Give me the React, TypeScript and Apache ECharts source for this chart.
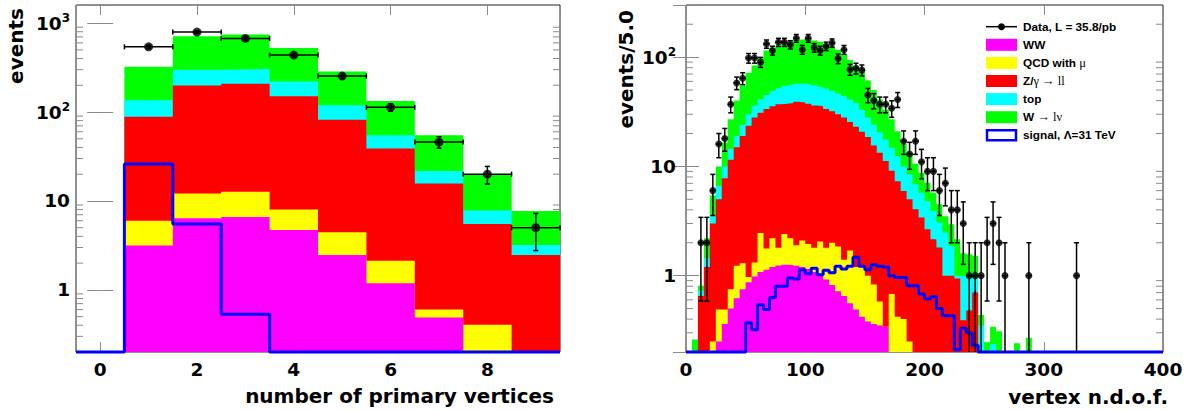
import React, { useEffect, useRef } from "react";
import * as echarts from "echarts";

// ---------- number of primary vertices: unit bins centred on 0..9 ----------
const nvtxCentres = [0, 1, 2, 3, 4, 5, 6, 7, 8, 9];
const nvtxData = [0, 542, 793, 673, 437, 254, 113, 46, 20, 5];
// stacked totals: every level already includes the processes below it
const nvtxLevelWW = [0, 3.15, 6.4, 6.6, 4.72, 2.47, 1.19, 0.489, 0, 0];
const nvtxLevelQCD = [0, 6.0, 12.1, 12.7, 8.0, 4.44, 2.12, 0.6, 0.404, 0];
const nvtxLevelZ = [0, 88.6, 199, 208, 151, 82, 39, 15.7, 5.5, 2.47];
const nvtxLevelTop = [0, 136, 299, 304, 221, 119, 55, 21.7, 7.8, 3.2];
const nvtxLevelW = [0, 323, 714, 746, 524, 286, 133, 54.7, 19.9, 7.7];
const nvtxSignal = [0, 26, 5.5, 0.53, 0, 0, 0, 0, 0, 0];

// ---------- vertex n.d.o.f.: bins of width 5 from 0 to 400 (later bins are empty) ----------
const ndofData = [
  0, 0, 2, 2, 6, 16, 18, 37, 58, 64,
  98, 98, 90, 132, 115, 137, 137, 130, 149, 117,
  149, 122, 115, 126, 135, 97, 117, 77, 79, 76,
  45, 40, 37, 37, 34, 41, 17, 13, 17, 11,
  9, 9, 6, 7, 4, 4, 3, 1, 1, 1,
  2, 3, 2, 1, 0, 0, 0, 1, 0, 0,
  0, 0, 0, 0, 0, 1,
];
const ndofLevelW = [
  0, 0.26, 0.81, 2.2, 5.4, 10, 16.5, 27, 40, 55,
  72, 84, 100, 115, 122, 128, 134, 140, 144, 146,
  145, 142, 138, 132, 125, 116, 107, 94, 83, 74,
  61, 50, 41, 33, 27, 21, 16, 13, 10.5, 8.75,
  7.1, 5.75, 4.5, 3.5, 2.95, 2.15, 1.6, 1.57, 1.52, 0.436,
  0.245, 0.34, 0.31, 0, 0, 0.24, 0, 0.27,
];
const ndofLevelTop = [
  0, 0, 0.73, 1.45, 3.6, 6.6, 10, 14.5, 19, 24,
  30, 36, 41, 45, 49, 52, 54, 56, 57, 57,
  56.5, 55, 53.5, 51.5, 49, 46.5, 44, 41, 38, 33,
  28, 24, 20.5, 17.6, 14.8, 12.4, 10, 8.45, 6.85, 5.75,
  4.8, 3.9, 3.06, 2.48, 1.87, 1.0, 1.0, 0.95, 0.95, 0.35,
  0, 0.237,
];
const ndofLevelZ = [
  0, 0, 0.65, 1.2, 3.0, 5.0, 7.8, 11.5, 15, 19,
  23.5, 28, 31, 33.5, 35.5, 37, 37.5, 38, 39, 38.5,
  37.5, 36, 35.5, 33.5, 32, 30, 28, 25.5, 23, 20.7,
  18.6, 15.5, 13.3, 11.2, 9.1, 7.3, 5.95, 5.0, 4.05, 3.4,
  2.66, 2.15, 1.81, 1.0, 1.0, 0.94, 0.39, 0.48, 0.7,
];
const ndofLevelQCD = [
  0, 0, 0, 0, 0.25, 0.49, 0.49, 0.75, 1.23, 1.3,
  0.97, 1.32, 2.45, 1.77, 2.2, 1.8, 2.4, 2.2, 1.9, 2.1,
  1.95, 1.8, 2.05, 1.8, 2.0, 1.85, 1.4, 1.7, 1.2, 1.2,
  1.0, 0.83, 0.58, 0.34, 0.68, 0.42, 0.4, 0.25,
];
const ndofLevelWW = [
  0, 0, 0, 0, 0, 0.25, 0.36, 0.5, 0.62, 0.75,
  0.87, 0.98, 1.08, 1.13, 1.2, 1.24, 1.26, 1.25, 1.23, 1.2,
  1.15, 1.08, 1.0, 0.92, 0.82, 0.72, 0.65, 0.56, 0.49, 0.42,
  0.38, 0.36, 0.35, 0.34,
];
const ndofSignal = [
  0, 0, 0, 0, 0, 0, 0, 0, 0, 0,
  0.37, 0.32, 0.54, 0.49, 0.63, 0.8, 0.8, 0.95, 0.93, 1.13,
  1.04, 1.17, 1.02, 1.12, 1.06, 1.22, 1.15, 1.22, 1.47, 1.22,
  1.13, 1.26, 1.22, 1.2, 1.0, 0.96, 0.96, 0.81, 0.81, 0.68,
  0.61, 0.64, 0.5, 0.43, 0.43, 0.21, 0.33, 0.3, 0.23, 0,
];

// log-axis minor tick positions
const nvtxMinorTicks = [
  0.3, 0.4, 0.5, 0.6, 0.7, 0.8, 0.9,
  2, 3, 4, 5, 6, 7, 8, 9,
  20, 30, 40, 50, 60, 70, 80, 90,
  200, 300, 400, 500, 600, 700, 800, 900,
];
const ndofMinorTicks = [
  0.3, 0.4, 0.5, 0.6, 0.7, 0.8, 0.9,
  2, 3, 4, 5, 6, 7, 8, 9,
  20, 30, 40, 50, 60, 70, 80, 90,
  200,
];

const legendEntries = [
  { bold: "Data, L = 35.8/pb", symbol: "", kind: "data" },
  { bold: "WW", symbol: "", kind: "fill", color: "#ff00ff" },
  { bold: "QCD with ", symbol: "μ", kind: "fill", color: "#ffff00" },
  { bold: "Z/", symbol: "γ → ll", kind: "fill", color: "#ff0000" },
  { bold: "top", symbol: "", kind: "fill", color: "#00ffff" },
  { bold: "W ", symbol: "→ lν", kind: "fill", color: "#00ff00" },
  { bold: "signal, Λ=31 TeV", symbol: "", kind: "outline", color: "#0000ff" },
];

const COLORS = {
  WW: "#ff00ff",
  QCD: "#ffff00",
  Z: "#ff0000",
  top: "#00ffff",
  W: "#00ff00",
  signal: "#0000ff",
};

const AXIS_FONT = '"DejaVu Sans", sans-serif';
const LEGEND_FONT = '"Liberation Sans", Arial, sans-serif';
const SERIF_FONT = '"Liberation Serif", "DejaVu Serif", serif';
const TICK_COLOR = "#8a8a8a";

const NVTX = { edge0: -0.5, width: 1, n: 10, min: 0.2, max: 1600 };
const NDOF = { edge0: 0, width: 5, n: 80, min: 0.2, max: 300 };

type Hist = { edge0: number; width: number; n: number; min: number; max: number };

// points of a step outline: one point per bin low edge plus the final high edge
function stepPoints(h: Hist, vals: number[]) {
  const pts: number[][] = [];
  for (let i = 0; i < h.n; i++) {
    pts.push([h.edge0 + i * h.width, Math.max(vals[i] ?? 0, h.min)]);
  }
  pts.push([h.edge0 + h.n * h.width, Math.max(vals[h.n - 1] ?? 0, h.min)]);
  return pts;
}

function filledLevel(h: Hist, vals: number[], color: string, axis: number) {
  return {
    type: "line",
    xAxisIndex: axis * 2,
    yAxisIndex: axis * 2,
    data: stepPoints(h, vals),
    step: "end",
    symbol: "none",
    silent: true,
    lineStyle: { width: 0, color },
    areaStyle: { color, opacity: 1, origin: "start" },
    z: 2,
  };
}

function signalLine(h: Hist, vals: number[], axis: number) {
  return {
    type: "line",
    xAxisIndex: axis * 2,
    yAxisIndex: axis * 2,
    data: stepPoints(h, vals),
    step: "end",
    symbol: "none",
    silent: true,
    clip: false,
    lineStyle: { width: 3, color: COLORS.signal },
    z: 4,
  };
}

function dataSeries(h: Hist, centres: number[], vals: number[], axis: number, markerSize: number, xCap: boolean) {
  const bars = [] as number[][];
  const points = [] as number[][];
  centres.forEach((x, i) => {
    const v = vals[i];
    if (!v) return;
    const err = Math.sqrt(v);
    const lo = v - err;
    bars.push([x, v, x - h.width / 2, x + h.width / 2, Math.max(lo, h.min), v + err, lo <= h.min ? 1 : 0]);
    points.push([x, v]);
  });
  const errorBars = {
    type: "custom",
    xAxisIndex: axis * 2,
    yAxisIndex: axis * 2,
    silent: true,
    z: 5,
    data: bars,
    renderItem: (_p: any, api: any) => {
      const x = api.value(0);
      const v = api.value(1);
      const c = api.coord([x, v]);
      const lo = api.coord([x, api.value(4)]);
      const hi = api.coord([x, api.value(5)]);
      const l = api.coord([api.value(2), v]);
      const r = api.coord([api.value(3), v]);
      const st = { stroke: "#000", lineWidth: 1.5 };
      const cw = 2.5;
      const children: any[] = [
        { type: "line", shape: { x1: c[0], y1: lo[1], x2: c[0], y2: hi[1] }, style: st },
        { type: "line", shape: { x1: l[0], y1: c[1], x2: r[0], y2: c[1] }, style: st },
        { type: "line", shape: { x1: c[0] - cw, y1: hi[1], x2: c[0] + cw, y2: hi[1] }, style: st },
      ];
      if (!api.value(6)) {
        children.push({ type: "line", shape: { x1: c[0] - cw, y1: lo[1], x2: c[0] + cw, y2: lo[1] }, style: st });
      }
      if (xCap) {
        children.push({ type: "line", shape: { x1: l[0], y1: c[1] - cw, x2: l[0], y2: c[1] + cw }, style: st });
        children.push({ type: "line", shape: { x1: r[0], y1: c[1] - cw, x2: r[0], y2: c[1] + cw }, style: st });
      }
      return { type: "group", children };
    },
  };
  const markers = {
    type: "scatter",
    xAxisIndex: axis * 2,
    yAxisIndex: axis * 2,
    silent: true,
    symbol: "circle",
    symbolSize: markerSize,
    itemStyle: { color: "#000" },
    data: points,
    z: 6,
  };
  return [errorBars, markers];
}

function minorTicks(h: Hist, ticks: number[], axis: number) {
  const xMin = h.edge0;
  const xMax = h.edge0 + h.n * h.width;
  return {
    type: "custom",
    xAxisIndex: axis * 2,
    yAxisIndex: axis * 2,
    silent: true,
    z: 1,
    data: ticks.map((t) => [xMin, t]),
    renderItem: (_p: any, api: any) => {
      const a = api.coord([xMin, api.value(1)]);
      const b = api.coord([xMax, api.value(1)]);
      const st = { stroke: TICK_COLOR, lineWidth: 1 };
      return {
        type: "group",
        children: [
          { type: "line", shape: { x1: a[0], y1: a[1], x2: a[0] + 7, y2: a[1] }, style: st },
          { type: "line", shape: { x1: b[0] - 7, y1: b[1], x2: b[0], y2: b[1] }, style: st },
        ],
      };
    },
  };
}

function decadeLabel(v: number) {
  const lg = Math.log10(v);
  const e = Math.round(lg);
  if (Math.abs(lg - e) > 1e-6) return "";
  if (e === 0) return "{b|1}";
  if (e === 1) return "{b|10}";
  return `{b|10}{e|${e}}`;
}

const labelRich = {
  b: { fontFamily: AXIS_FONT, fontWeight: "bold", fontSize: 18.5, lineHeight: 22, color: "#000" },
  e: { fontFamily: AXIS_FONT, fontWeight: "bold", fontSize: 12, lineHeight: 12, verticalAlign: "top", color: "#000" },
};

function xAxes(grid: number, h: Hist, interval: number | undefined, fmt: (v: number) => string) {
  const min = h.edge0;
  const max = h.edge0 + h.n * h.width;
  const base = {
    type: "value",
    gridIndex: grid,
    min,
    max,
    interval,
    splitLine: { show: false },
    axisLine: { show: false },
    axisTick: { show: true, inside: true, length: 10, lineStyle: { color: TICK_COLOR, width: 1 } },
  };
  return [
    {
      ...base,
      position: "bottom",
      axisLabel: {
        show: true,
        margin: 8,
        formatter: fmt,
        fontFamily: AXIS_FONT,
        fontWeight: "bold",
        fontSize: 18.5,
        color: "#000",
      },
    },
    { ...base, position: "top", axisLabel: { show: false } },
  ];
}

function yAxes(grid: number, h: Hist, margin: number) {
  const base = {
    type: "log",
    logBase: 10,
    gridIndex: grid,
    min: h.min,
    max: h.max,
    splitLine: { show: false },
    axisLine: { show: false },
    axisTick: { show: true, inside: true, length: 13, lineStyle: { color: TICK_COLOR, width: 1 } },
  };
  return [
    {
      ...base,
      position: "left",
      axisLabel: { show: true, margin, formatter: decadeLabel, rich: labelRich },
    },
    { ...base, position: "right", axisLabel: { show: false } },
  ];
}

function legendGraphics() {
  const x0 = 986;
  const boxW = 31;
  const boxH = 12;
  const textX = 1023;
  const rowY0 = 26.7;
  const rowStep = 18.1;
  const els: any[] = [];
  legendEntries.forEach((entry, i) => {
    const cy = rowY0 + i * rowStep;
    if (entry.kind === "data") {
      els.push({ type: "line", shape: { x1: x0, y1: cy, x2: x0 + boxW, y2: cy }, style: { stroke: "#000", lineWidth: 1.5 } });
      els.push({ type: "circle", shape: { cx: x0 + boxW / 2, cy, r: 3.5 }, style: { fill: "#000" } });
    } else if (entry.kind === "fill") {
      els.push({ type: "rect", shape: { x: x0, y: cy - boxH / 2, width: boxW, height: boxH }, style: { fill: entry.color } });
    } else {
      els.push({
        type: "rect",
        shape: { x: x0 + 1, y: cy - boxH / 2 + 1, width: boxW - 2, height: boxH - 2 },
        style: { fill: "#fff", stroke: entry.color, lineWidth: 2.5 },
      });
    }
    const text = entry.symbol ? `{b|${entry.bold}}{s|${entry.symbol}}` : `{b|${entry.bold}}`;
    els.push({
      type: "text",
      x: textX,
      y: cy,
      style: {
        text,
        align: "left",
        verticalAlign: "middle",
        rich: {
          b: { fontFamily: LEGEND_FONT, fontWeight: "bold", fontSize: 11.8, fill: "#000" },
          s: { fontFamily: SERIF_FONT, fontWeight: "normal", fontSize: 12.5, fill: "#000" },
        },
      },
    });
  });
  return els;
}

function titleText(text: string, x: number, y: number, rotated: boolean) {
  return {
    type: "text",
    x,
    y,
    rotation: rotated ? Math.PI / 2 : 0,
    style: {
      text,
      fill: "#000",
      fontFamily: AXIS_FONT,
      fontWeight: "bold",
      fontSize: 20,
      align: "right",
      verticalAlign: "middle",
    },
  };
}

export default function App() {
  const ref = useRef<HTMLDivElement>(null);

  useEffect(() => {
    if (!ref.current) return;
    const chart = echarts.init(ref.current, undefined, { renderer: "svg" });

    const ndofCentres = Array.from({ length: NDOF.n }, (_, i) => NDOF.edge0 + (i + 0.5) * NDOF.width);

    const option: any = {
      animation: false,
      backgroundColor: "#fff",
      grid: [
        { left: 76, top: 5, width: 484, height: 347, show: true, borderColor: "#222", borderWidth: 1, backgroundColor: "#fff", containLabel: false, outerBoundsMode: "none" },
        { left: 686, top: 5, width: 477, height: 347, show: true, borderColor: "#222", borderWidth: 1, backgroundColor: "#fff", containLabel: false, outerBoundsMode: "none" },
      ],
      xAxis: [
        ...xAxes(0, NVTX, undefined, (v: number) => (Number.isInteger(v) && v % 2 === 0 ? String(v) : "")),
        ...xAxes(1, NDOF, 100, (v: number) => String(v)),
      ],
      yAxis: [...yAxes(0, NVTX, 6), ...yAxes(1, NDOF, 10)],
      series: [
        minorTicks(NVTX, nvtxMinorTicks, 0),
        filledLevel(NVTX, nvtxLevelW, COLORS.W, 0),
        filledLevel(NVTX, nvtxLevelTop, COLORS.top, 0),
        filledLevel(NVTX, nvtxLevelZ, COLORS.Z, 0),
        filledLevel(NVTX, nvtxLevelQCD, COLORS.QCD, 0),
        filledLevel(NVTX, nvtxLevelWW, COLORS.WW, 0),
        signalLine(NVTX, nvtxSignal, 0),
        ...dataSeries(NVTX, nvtxCentres, nvtxData, 0, 9, true),

        minorTicks(NDOF, ndofMinorTicks, 1),
        filledLevel(NDOF, ndofLevelW, COLORS.W, 1),
        filledLevel(NDOF, ndofLevelTop, COLORS.top, 1),
        filledLevel(NDOF, ndofLevelZ, COLORS.Z, 1),
        filledLevel(NDOF, ndofLevelQCD, COLORS.QCD, 1),
        filledLevel(NDOF, ndofLevelWW, COLORS.WW, 1),
        signalLine(NDOF, ndofSignal, 1),
        ...dataSeries(NDOF, ndofCentres, ndofData, 1, 7, false),
      ],
      graphic: [
        titleText("events", 16, 8, true),
        titleText("number of primary vertices", 554, 396, false),
        titleText("events/5.0", 626, 10, true),
        titleText("vertex n.d.o.f.", 1168, 397, false),
        ...legendGraphics(),
      ],
    };

    chart.setOption(option);
    return () => chart.dispose();
  }, []);

  return <div ref={ref} style={{ position: "absolute", left: 0, top: 0, width: 1191, height: 410 }} />;
}
